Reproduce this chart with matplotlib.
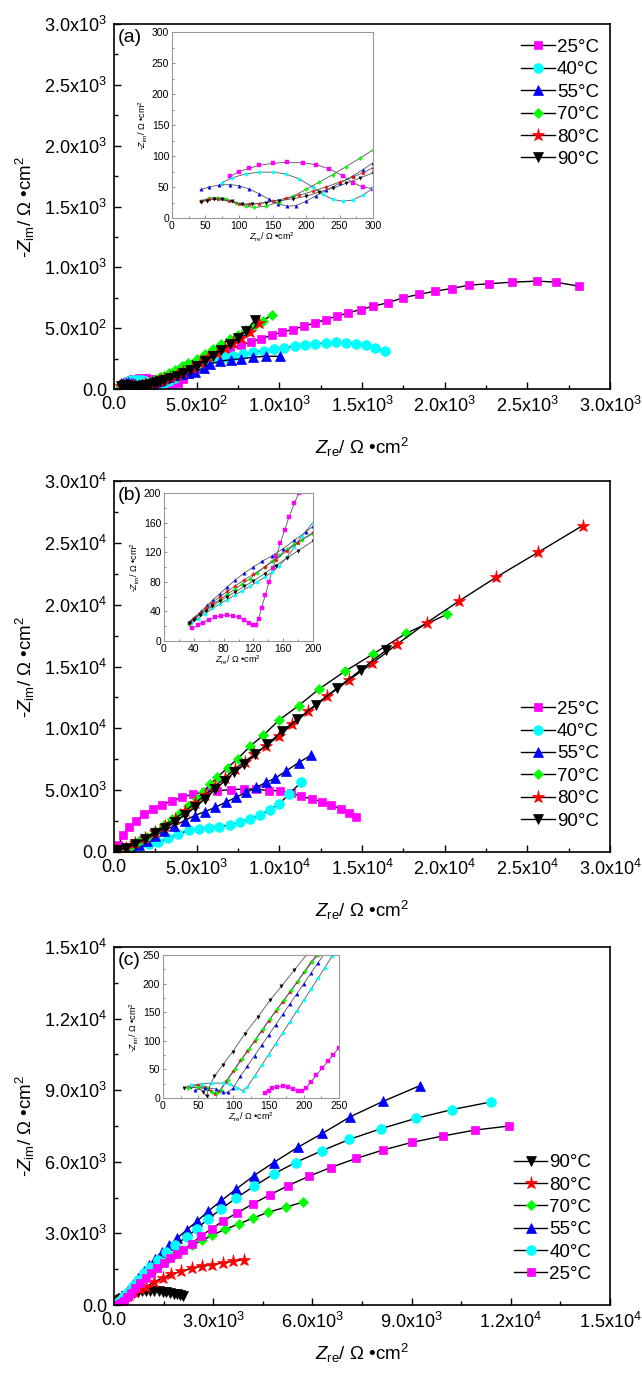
import numpy as np
import matplotlib
matplotlib.use("Agg")
import matplotlib.pyplot as plt
from matplotlib.ticker import FuncFormatter, MultipleLocator, AutoMinorLocator

plt.rcParams['font.family'] = ['Liberation Sans', 'DejaVu Sans']
plt.rcParams['mathtext.fontset'] = 'custom'
plt.rcParams['mathtext.rm'] = 'Liberation Sans'
plt.rcParams['mathtext.it'] = 'Liberation Sans:italic'
plt.rcParams['mathtext.bf'] = 'Liberation Sans:bold'

# ---------------------------------------------------------------------------
# datos (Ω·cm²)
# ---------------------------------------------------------------------------
TEMPS = ["25°C", "40°C", "55°C", "70°C", "80°C", "90°C"]

# (a)
a_25_zre = [87, 100, 115, 130, 150, 172, 195, 215, 235, 255, 270, 285, 300, 320, 350, 385, 420, 455, 495, 540,
            590, 640, 700, 767, 830, 892, 955, 1017, 1080, 1147, 1217, 1280, 1347, 1417, 1492, 1567, 1655, 1747,
            1842, 1942, 2042, 2150, 2267, 2407, 2560, 2672, 2812]
a_25_zim = [67, 75, 80, 85, 88, 90, 89, 86, 79, 68, 57, 50, 47, 44, 40, 50, 80, 120, 170, 220,
            265, 300, 330, 360, 387, 414, 442, 469, 489, 516, 543, 571, 598, 626, 653, 681, 708, 749,
            777, 804, 826, 854, 865, 878, 887, 878, 845]
a_40_zre = [74, 90, 110, 130, 150, 170, 190, 210, 225, 240, 255, 270, 285, 300, 330, 370, 420, 470, 520, 570,
            620, 670, 717, 780, 842, 905, 967, 1030, 1092, 1155, 1217, 1280, 1342, 1405, 1462, 1525, 1580, 1642]
a_40_zim = [57, 65, 71, 74, 74, 71, 63, 50, 38, 30, 27, 29, 37, 48, 65, 90, 125, 160, 195, 225,
            250, 265, 274, 291, 305, 316, 329, 338, 351, 360, 370, 379, 386, 382, 372, 358, 338, 310]
a_55_zre = [44, 55, 70, 87, 100, 115, 130, 145, 158, 172, 185, 200, 215, 230, 250, 270, 285, 300, 330, 370,
            410, 450, 492, 542, 580, 642, 705, 767, 842, 917, 1005]
a_55_zim = [46, 50, 53, 54, 52, 47, 39, 30, 23, 19, 20, 27, 36, 45, 56, 68, 78, 89, 102, 112,
            120, 128, 140, 173, 206, 228, 242, 247, 261, 269, 269]
a_70_zre = [44, 55, 68, 80, 95, 110, 123, 140, 160, 180, 200, 220, 240, 260, 280, 300, 330, 370, 410, 450,
            500, 550, 600, 650, 700, 750, 800, 850, 900, 955]
a_70_zim = [28, 32, 33, 31, 25, 19, 17, 19, 26, 35, 46, 58, 70, 83, 96, 110, 128, 155, 185, 215,
            250, 290, 330, 370, 410, 445, 485, 525, 560, 610]
a_80_zre = [44, 55, 68, 85, 100, 115, 130, 150, 170, 190, 210, 230, 250, 270, 285, 300, 340, 380, 420, 470,
            520, 570, 620, 670, 720, 770, 820, 880]
a_80_zim = [27, 30, 30, 27, 23, 22, 23, 27, 32, 37, 43, 50, 58, 66, 73, 81, 95, 115, 140, 175,
            215, 260, 300, 340, 380, 420, 470, 545]
a_90_zre = [44, 52, 62, 75, 90, 105, 120, 140, 160, 180, 200, 220, 240, 260, 280, 300, 340, 380, 420, 460,
            500, 550, 600, 650, 700, 750, 800, 855]
a_90_zim = [26, 28, 30, 30, 27, 22, 23, 25, 28, 31, 35, 42, 48, 56, 64, 73, 88, 108, 130, 158,
            190, 230, 275, 320, 370, 420, 480, 570]

# (b)
b_25_zre = [38, 45, 52, 60, 68, 76, 84, 92, 100, 108, 114, 119, 123, 127, 131, 136, 141, 146, 151, 156,
            162, 168, 175, 181, 190, 200, 250, 550, 920, 1340, 1840, 2330, 2900, 3520, 4140, 4760, 5510, 6250,
            7050, 7870, 8610, 9350, 10050, 10720, 11340, 11960, 12580, 13150, 13700, 14190, 14640]
b_25_zim = [17, 21, 25, 29, 32, 34, 35, 34, 32, 28, 24, 21, 22, 30, 45, 62, 80, 98, 115, 132,
            150, 168, 186, 200, 225, 250, 560, 1340, 2010, 2540, 3080, 3480, 3800, 4150, 4420, 4690, 4820, 4960,
            5040, 5090, 5090, 4960, 4960, 4770, 4500, 4290, 4070, 3800, 3480, 3130, 2810]
b_40_zre = [36, 45, 55, 65, 75, 85, 95, 105, 115, 125, 135, 145, 155, 165, 175, 185, 200, 500, 1000, 1500,
            2100, 2660, 3280, 3900, 4520, 5140, 5760, 6380, 7000, 7620, 8240, 8860, 9430, 9980, 10600, 11340]
b_40_zim = [24, 30, 37, 44, 50, 56, 62, 68, 74, 80, 86, 93, 102, 113, 127, 142, 160, 200, 330, 480,
            620, 800, 1130, 1470, 1740, 1880, 1960, 2060, 2200, 2410, 2680, 3000, 3430, 3880, 4690, 5680]
b_55_zre = [35, 42, 50, 58, 66, 75, 85, 95, 108, 120, 132, 145, 160, 175, 190, 200, 500, 1000, 1500, 2000,
            2500, 3000, 3600, 4270, 4890, 5510, 6130, 6750, 7370, 7990, 8610, 9180, 9730, 10420, 11170, 11910]
b_55_zim = [27, 33, 40, 48, 56, 64, 73, 82, 92, 100, 108, 115, 125, 136, 147, 155, 120, 300, 560, 900,
            1300, 1700, 2100, 2540, 2950, 3270, 3620, 4020, 4420, 4820, 5220, 5630, 5950, 6560, 7230, 7820]
b_70_zre = [34, 40, 48, 56, 65, 75, 85, 95, 105, 115, 125, 135, 145, 155, 165, 175, 185, 200, 500, 1000,
            1500, 2000, 2500, 3000, 3500, 4000, 4500, 5000, 5400, 5810, 6250, 6870, 7490, 8240, 9030, 9980,
            11170, 12410, 13950, 15680, 17670, 20150]
b_70_zim = [23, 30, 36, 42, 49, 56, 63, 70, 77, 84, 92, 100, 108, 116, 124, 131, 137, 145, 250, 500,
            850, 1250, 1700, 2150, 2650, 3150, 3700, 4250, 4850, 5490, 6030, 6830, 7550, 8570, 9430, 10660,
            11840, 13180, 14600, 16020, 17680, 19230]
b_80_zre = [34, 40, 48, 56, 65, 75, 85, 95, 108, 120, 135, 150, 165, 180, 200, 700, 1300, 1900, 2500, 3100,
            3700, 4300, 4900, 5500, 6100, 6700, 7300, 7900, 8490, 9180, 9980, 10770, 11760, 12900, 14190, 15630,
            17120, 18910, 20890, 23130, 25660, 28340]
b_80_zim = [25, 31, 38, 45, 52, 60, 67, 74, 83, 90, 100, 110, 122, 133, 147, 350, 700, 1100, 1600, 2100,
            2700, 3300, 3950, 4600, 5300, 6000, 6700, 7300, 7900, 8570, 9380, 10310, 11380, 12590, 13880, 15270,
            16800, 18540, 20310, 22230, 24240, 26390]
b_90_zre = [33, 40, 48, 56, 65, 75, 85, 95, 108, 120, 135, 150, 165, 180, 200, 700, 1300, 1900, 2500, 3100,
            3700, 4300, 4900, 5500, 6130, 6700, 7250, 7870, 8540, 9280, 10170, 11090, 12210, 13500, 14940, 16480]
b_90_zim = [24, 29, 35, 41, 47, 54, 60, 66, 74, 81, 91, 102, 112, 122, 135, 320, 650, 1050, 1500, 1950,
            2450, 3000, 3600, 4300, 5090, 5760, 6430, 7100, 7900, 8710, 9780, 10720, 11920, 13260, 14730, 16340]

# (c)
c_25_zre = [145, 150, 155, 162, 170, 178, 185, 192, 197, 203, 210, 218, 226, 234, 242, 250, 300, 400, 520, 650,
            800, 960, 1130, 1310, 1500, 1700, 1900, 2100, 2350, 2620, 2950, 3310, 3730, 4200, 4710, 5260, 5890,
            6550, 7320, 8150, 9000, 9940, 10920, 11950]
c_25_zim = [8, 13, 17, 20, 21, 19, 16, 13, 13, 17, 28, 40, 52, 64, 76, 88, 170, 330, 520, 720,
            930, 1140, 1350, 1560, 1760, 1960, 2130, 2290, 2570, 2890, 3190, 3540, 3860, 4240, 4610, 5000, 5390,
            5760, 6140, 6500, 6810, 7080, 7330, 7500]
c_40_zre = [40, 55, 70, 85, 95, 105, 113, 120, 130, 140, 150, 160, 170, 180, 190, 200, 210, 220, 230, 240,
            300, 420, 560, 720, 900, 1100, 1320, 1560, 1850, 2200, 2500, 2850, 3250, 3700, 4230, 4830, 5490,
            6280, 7120, 8080, 9130, 10230, 11410]
c_40_zim = [22, 25, 26, 26, 24, 18, 13, 20, 38, 57, 76, 95, 114, 133, 152, 171, 190, 209, 228, 248,
            360, 560, 800, 1050, 1320, 1600, 1900, 2200, 2520, 2850, 3190, 3610, 4030, 4490, 4970, 5490, 5970,
            6460, 6940, 7390, 7820, 8190, 8510]
c_55_zre = [45, 60, 75, 85, 92, 100, 110, 120, 130, 140, 150, 160, 170, 180, 190, 200, 210, 220, 230, 300,
            420, 560, 720, 900, 1070, 1240, 1440, 1670, 1920, 2200, 2500, 2850, 3250, 3700, 4230, 4830, 5550,
            6300, 7150, 8150, 9250]
c_55_zim = [14, 17, 16, 10, 10, 18, 38, 56, 74, 92, 110, 128, 146, 164, 182, 200, 218, 236, 254, 420,
            640, 880, 1150, 1440, 1690, 1940, 2220, 2500, 2810, 3150, 3500, 3930, 4380, 4860, 5420, 5970, 6600,
            7190, 7890, 8540, 9190]
c_70_zre = [35, 50, 62, 70, 76, 82, 92, 102, 112, 122, 132, 142, 152, 162, 172, 182, 192, 202, 212, 220,
            300, 420, 600, 800, 1000, 1200, 1400, 1600, 1820, 2070, 2350, 2660, 2970, 3350, 3790, 4200, 4670,
            5200, 5710]
c_70_zim = [17, 19, 17, 11, 8, 14, 32, 50, 68, 85, 103, 120, 138, 155, 172, 188, 205, 222, 238, 250,
            360, 520, 760, 1000, 1240, 1460, 1680, 1880, 2080, 2290, 2500, 2710, 2920, 3170, 3400, 3640, 3890,
            4100, 4310]
c_80_zre = [35, 50, 60, 68, 74, 80, 90, 100, 110, 120, 130, 140, 150, 160, 170, 180, 190, 200, 210, 218,
            300, 450, 600, 780, 970, 1220, 1470, 1720, 2030, 2350, 2660, 2970, 3290, 3600, 3920]
c_80_zim = [20, 22, 19, 12, 7, 12, 30, 48, 66, 82, 100, 118, 135, 152, 168, 185, 202, 220, 237, 250,
            300, 420, 540, 650, 760, 970, 1140, 1280, 1420, 1530, 1630, 1690, 1760, 1830, 1900]
c_90_zre = [30, 40, 50, 57, 62, 64, 73, 85, 99, 116, 135, 152, 168, 186, 205, 280, 350, 490, 600, 720,
            850, 970, 1100, 1220, 1350, 1470, 1580, 1690, 1800, 1910, 2000, 2100]
c_90_zim = [18, 20, 17, 11, 3, 15, 38, 58, 81, 112, 142, 171, 195, 223, 252, 300, 380, 440, 500, 560,
            580, 590, 590, 580, 570, 560, 530, 490, 470, 440, 420, 390]

# ---------------------------------------------------------------------------
# estilo
# ---------------------------------------------------------------------------
COLORES = ["#FF00FF", "#00FFFF", "#0000FF", "#00FF00", "#FF0000", "#000000"]
MARCADORES = ["s", "o", "^", "D", "*", "v"]
MS_MAIN = [6, 7, 6.5, 5.5, 9.5, 6.5]
MS_INS = [2.2, 2.4, 2.4, 2.0, 3.0, 2.4]

W, H = 642, 1374
fig = plt.figure(figsize=(W / 100, H / 100), dpi=100)
fig.patch.set_facecolor("white")


def rect_px(l, t, r, b):
    return [l / W, 1 - b / H, (r - l) / W, (b - t) / H]


def fmt_sci(v, pos):
    if abs(v) < 1e-9:
        return "0.0"
    if v < 0:
        return ""
    e = int(np.floor(np.log10(v) + 1e-9))
    return f"{v / 10 ** e:.1f}x10$^{{{e}}}$"


YLAB = "-$Z_{\\mathrm{im}}$/ Ω •cm$^2$"
XLAB = "$Z_{\\mathrm{re}}$/ Ω •cm$^2$"


def panel(rect, ins_rect, series, lim, step, ins_lim, ins_step, tag, leg_loc, leg_anchor, orden, xpad=14):
    ax = fig.add_axes(rect_px(*rect))
    for i in orden:
        x, y = series[i]
        ax.plot(x, y, color="k", lw=1.0, marker=MARCADORES[i], ms=MS_MAIN[i],
                mfc=COLORES[i], mec=COLORES[i], mew=0.5, label=TEMPS[i])
    ax.set_xlim(0, lim)
    ax.set_ylim(0, lim)
    for axis in (ax.xaxis, ax.yaxis):
        axis.set_major_locator(MultipleLocator(step))
        axis.set_minor_locator(AutoMinorLocator(2))
        axis.set_major_formatter(FuncFormatter(fmt_sci))
    ax.tick_params(which="both", direction="in", top=False, right=False, labelsize=13, pad=5)
    ax.tick_params(which="major", length=5, width=1)
    ax.tick_params(which="minor", length=3, width=1)
    for s in ax.spines.values():
        s.set_linewidth(1.2)
    ax.set_xlabel(XLAB, fontsize=13.5, labelpad=xpad)
    ax.set_ylabel(YLAB, fontsize=13.5, labelpad=5)
    ax.text(0.008, 0.985, tag, transform=ax.transAxes, ha="left", va="top", fontsize=14)
    ax.legend(loc=leg_loc, bbox_to_anchor=leg_anchor, frameon=False, fontsize=13.5,
              handlelength=1.8, handletextpad=0.1, labelspacing=0.28, borderaxespad=0.2)

    ins = fig.add_axes(rect_px(*ins_rect))
    for i in orden:
        x, y = series[i]
        ins.plot(x, y, color="#555555", lw=0.6, marker=MARCADORES[i], ms=MS_INS[i],
                 mfc=COLORES[i], mec=COLORES[i], mew=0.3)
    ins.set_xlim(0, ins_lim)
    ins.set_ylim(0, ins_lim)
    ins.xaxis.set_major_locator(MultipleLocator(ins_step))
    ins.yaxis.set_major_locator(MultipleLocator(ins_step))
    ins.xaxis.set_minor_locator(AutoMinorLocator(2))
    ins.yaxis.set_minor_locator(AutoMinorLocator(2))
    ins.tick_params(which="both", direction="in", top=False, right=False, labelsize=7.5, pad=2)
    ins.tick_params(which="major", length=2.5, width=0.6, color="#777777")
    ins.tick_params(which="minor", length=1.5, width=0.6, color="#777777")
    for s in ins.spines.values():
        s.set_linewidth(0.8)
        s.set_edgecolor("#999999")
    ins.set_xlabel(XLAB, fontsize=6.5, labelpad=0)
    ins.set_ylabel(YLAB, fontsize=6.5, labelpad=1)
    return ax, ins


serie_a = [(a_25_zre, a_25_zim), (a_40_zre, a_40_zim), (a_55_zre, a_55_zim),
           (a_70_zre, a_70_zim), (a_80_zre, a_80_zim), (a_90_zre, a_90_zim)]
serie_b = [(b_25_zre, b_25_zim), (b_40_zre, b_40_zim), (b_55_zre, b_55_zim),
           (b_70_zre, b_70_zim), (b_80_zre, b_80_zim), (b_90_zre, b_90_zim)]
serie_c = [(c_25_zre, c_25_zim), (c_40_zre, c_40_zim), (c_55_zre, c_55_zim),
           (c_70_zre, c_70_zim), (c_80_zre, c_80_zim), (c_90_zre, c_90_zim)]

panel((114, 24, 610, 389), (172, 32, 373, 218), serie_a, 3000, 500, 300, 50, "(a)",
      "upper right", (1.0, 0.99), [0, 1, 2, 3, 4, 5])
panel((114, 481, 610, 852), (164, 493, 313, 641), serie_b, 30000, 5000, 200, 40, "(b)",
      "lower right", (1.0, 0.03), [0, 1, 2, 3, 4, 5])
panel((114, 947, 610, 1305), (163, 955, 339, 1098), serie_c, 15000, 3000, 250, 50, "(c)",
      "lower right", (0.985, 0.03), [5, 4, 3, 2, 1, 0], xpad=7)

plt.savefig("out.png", dpi=100, facecolor=fig.get_facecolor())
